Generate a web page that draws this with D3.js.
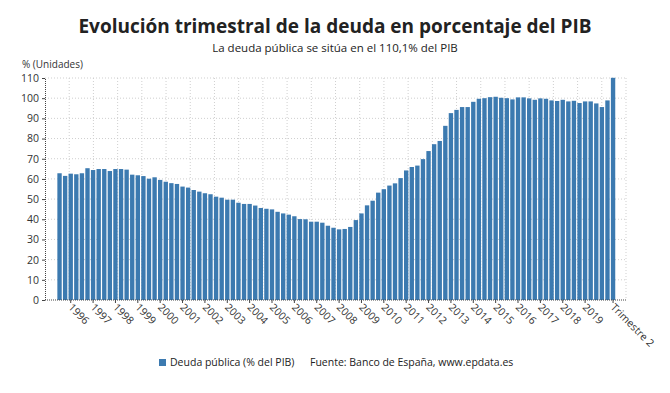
<!DOCTYPE html>
<html>
<head>
<meta charset="utf-8">
<script src="https://cdn.jsdelivr.net/npm/d3@7"></script>
<style>
  body { margin: 0; background: #fff; }
  text { font-family: "Open Sans", sans-serif; }
</style>
</head>
<body>
<div id="chart"></div>
<script>
// deuda publica en % del PIB, trimestral, 1995 T3 - 2020 T2
const deuda = [
  62.8, 61.5, 62.6, 62.3, 62.8, 65.3, 64.4, 64.9, 64.9, 63.9,
  64.9, 64.9, 64.6, 62.1, 61.8, 61.4, 60.1, 60.8, 59.5, 58.6,
  57.9, 57.5, 56.2, 55.7, 54.5, 53.7, 52.9, 52.4, 51.2, 50.7,
  49.7, 49.7, 48.2, 47.6, 47.6, 46.8, 45.6, 45.2, 44.9, 43.7,
  42.9, 42.3, 41.5, 40.1, 40.0, 38.8, 38.8, 38.3, 36.8, 35.8,
  35.0, 35.2, 36.2, 39.6, 42.9, 46.9, 49.2, 53.2, 54.9, 56.7,
  57.8, 60.4, 64.2, 65.9, 66.6, 69.8, 73.8, 77.2, 78.8, 86.3,
  92.6, 94.2, 95.6, 95.6, 98.2, 99.7, 100.0, 100.5, 100.7, 100.2,
  100.0, 99.4, 100.4, 100.4, 99.9, 99.2, 99.9, 99.7, 98.9, 98.6,
  99.2, 98.4, 98.7, 97.6, 98.4, 98.4, 97.4, 95.6, 98.9, 110.1
]
const anioInicio = 1995, trimInicio = 3
const yTicks = [0, 10, 20, 30, 40, 50, 60, 70, 80, 90, 100, 110]
const titulo = "Evolución trimestral de la deuda en porcentaje del PIB"
const subtitulo = "La deuda pública se sitúa en el 110,1% del PIB"
const serie = "Deuda pública (% del PIB)"
const fuente = "Fuente: Banco de España, www.epdata.es"

const data = deuda.map((v, i) => {
  let q = trimInicio - 1 + i
  return {anio: anioInicio + Math.floor(q / 4), trim: q % 4 + 1, valor: v, id: i}
})

const W = 670, H = 393
const plot = {left: 45, right: 626, top: 78, bottom: 300}

const svg = d3.select("#chart").append("svg")
  .attr("width", W).attr("height", H)

svg.append("text")
  .attr("x", 335).attr("y", 33)
  .attr("text-anchor", "middle")
  .attr("font-size", 19).attr("font-weight", "bold").attr("fill", "#222")
  .text(titulo)

svg.append("text")
  .attr("x", 335).attr("y", 52)
  .attr("text-anchor", "middle")
  .attr("font-size", 11.5).attr("fill", "#222")
  .text(subtitulo)

svg.append("text")
  .attr("x", 22).attr("y", 68)
  .attr("font-size", 10).attr("fill", "#333")
  .text("% (Unidades)")

const y = d3.scaleLinear().domain([0, 110]).range([plot.bottom, plot.top])
const x = d3.scaleBand()
  .domain(data.map(d => d.id))
  .range([56.8, 615.8])
  .paddingInner(0.22).paddingOuter(0.1)

// rejilla
const grid = svg.append("g")
grid.selectAll("line.h")
  .data(yTicks.filter(t => t > 0))
  .join("line")
  .attr("x1", plot.left).attr("x2", plot.right)
  .attr("y1", d => y(d)).attr("y2", d => y(d))
  .attr("stroke", "#cfcfcf").attr("stroke-dasharray", "1,2")
const vx = d3.scaleLinear().domain([0, 24]).range([plot.left, plot.right])
grid.selectAll("line.v")
  .data(d3.range(1, 25))
  .join("line")
  .attr("x1", d => vx(d)).attr("x2", d => vx(d))
  .attr("y1", plot.top).attr("y2", plot.bottom)
  .attr("stroke", "#cfcfcf").attr("stroke-dasharray", "1,2")

// barras
svg.append("g")
  .selectAll("rect")
  .data(data)
  .join("rect")
  .attr("x", d => x(d.id))
  .attr("y", d => y(d.valor))
  .attr("width", x.bandwidth())
  .attr("height", d => y(0) - y(d.valor))
  .attr("fill", "#3c7ab0")

// eje y
const yAxis = svg.append("g")
  .attr("transform", `translate(${plot.left},0)`)
  .call(d3.axisLeft(y).tickValues(yTicks).tickSize(3).tickPadding(3))
yAxis.select(".domain").attr("stroke", "#444").attr("stroke-dasharray", "1,1")
yAxis.selectAll(".tick line").attr("stroke", "#444")
yAxis.selectAll("text").attr("font-size", 10.5).attr("fill", "#333")
  .attr("font-family", "Open Sans")

// eje x: un año por primer trimestre hasta 2019, y el último trimestre
const ultimo = data.length - 1
const etiq = data.filter((d, i) => (d.trim == 1 && d.anio < 2020) || i == ultimo)
const xAxis = svg.append("g")
  .attr("transform", `translate(0,${plot.bottom})`)
xAxis.append("line")
  .attr("x1", plot.left).attr("x2", plot.right)
  .attr("stroke", "#444").attr("stroke-dasharray", "1,1")
const tk = xAxis.selectAll("g.tick")
  .data(etiq)
  .join("g")
  .attr("transform", d => `translate(${x(d.id) + x.bandwidth() / 2},0)`)
tk.append("line").attr("y2", 3).attr("stroke", "#444")
tk.append("text")
  .attr("transform", "translate(-3,8) rotate(45)")
  .attr("font-size", 10.5).attr("fill", "#333")
  .text(d => d.id == ultimo ? "Trimestre " + d.trim : d.anio)

// leyenda
const ley = svg.append("g")
ley.append("rect")
  .attr("x", 159).attr("y", 359).attr("width", 7).attr("height", 7)
  .attr("fill", "#3c7ab0")
ley.append("text")
  .attr("x", 170).attr("y", 366)
  .attr("font-size", 10.5).attr("fill", "#222")
  .text(serie)
ley.append("text")
  .attr("x", 310).attr("y", 366)
  .attr("font-size", 10.5).attr("fill", "#222")
  .text(fuente)
</script>
</body>
</html>
